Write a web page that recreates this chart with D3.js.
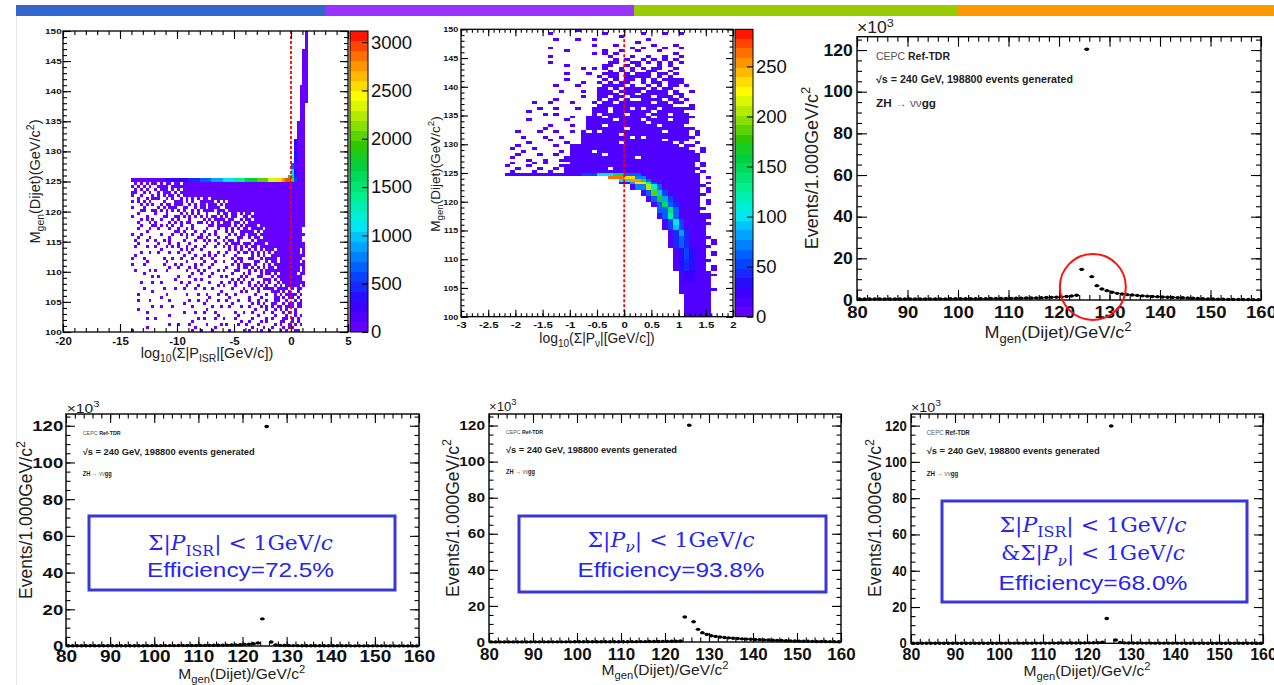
<!DOCTYPE html>
<html>
<head>
<meta charset="utf-8">
<script src="https://cdn.jsdelivr.net/npm/d3@7/dist/d3.min.js"></script>
<style>
  body { margin: 0; background: #fff; }
  svg { display: block; font-family: "Liberation Sans", Arial, Helvetica, sans-serif; }
</style>
</head>
<body>
<svg id="chart" width="1274" height="685"></svg>
<script>
// ---------- values ----------

const bannerColors = ["#3366cc", "#9933ff", "#99cc00", "#ff9900"];

// 1 GeV/c^2 mass bins, lower edges 80..159
const massEdges = d3.range(80, 160);
const massTicks = [80, 90, 100, 110, 120, 130, 140, 150, 160];
const eventTicks = [0, 20, 40, 60, 80, 100, 120];
const eventMax = 126.4; // x10^3

// events per bin (x10^3)
const allEvents = [
  0.45, 0.45, 0.46, 0.46, 0.47, 0.47, 0.48, 0.48, 0.49, 0.49,
  0.50, 0.51, 0.51, 0.52, 0.53, 0.54, 0.55, 0.56, 0.57, 0.58,
  0.59, 0.60, 0.62, 0.63, 0.65, 0.67, 0.69, 0.71, 0.74, 0.77,
  0.80, 0.84, 0.88, 0.93, 0.98, 1.04, 1.10, 1.18, 1.27, 1.38,
  1.52, 1.70, 1.95, 2.25, 14.7, 120.4, 11.2, 6.9, 5.3, 4.5,
  3.7, 3.2, 2.9, 2.6, 2.4, 2.2, 2.0, 1.85, 1.7, 1.6,
  1.45, 1.35, 1.25, 1.15, 1.05, 0.95, 0.85, 0.75, 0.62, 0.52,
  0.45, 0.40, 0.36, 0.32, 0.30, 0.27, 0.25, 0.22, 0.20, 0.19
];
const isrCutEvents = [
  0.10, 0.10, 0.11, 0.11, 0.11, 0.12, 0.12, 0.12, 0.13, 0.13,
  0.13, 0.14, 0.14, 0.15, 0.15, 0.16, 0.16, 0.17, 0.18, 0.18,
  0.19, 0.20, 0.21, 0.22, 0.23, 0.24, 0.25, 0.27, 0.28, 0.30,
  0.32, 0.34, 0.36, 0.39, 0.42, 0.45, 0.49, 0.54, 0.60, 0.68,
  0.80, 0.95, 1.20, 1.60, 14.8, 119.6, 2.2, 0.6, 0.35, 0.28,
  0.24, 0.21, 0.19, 0.17, 0.16, 0.15, 0.14, 0.13, 0.12, 0.12,
  0.11, 0.11, 0.10, 0.10, 0.09, 0.09, 0.09, 0.08, 0.08, 0.08,
  0.07, 0.07, 0.07, 0.06, 0.06, 0.06, 0.06, 0.05, 0.05, 0.05
];
const nuCutEvents = [
  0.05, 0.05, 0.05, 0.05, 0.06, 0.06, 0.06, 0.06, 0.06, 0.07,
  0.07, 0.07, 0.07, 0.08, 0.08, 0.08, 0.09, 0.09, 0.09, 0.10,
  0.10, 0.11, 0.11, 0.12, 0.12, 0.13, 0.14, 0.14, 0.15, 0.16,
  0.17, 0.18, 0.19, 0.20, 0.21, 0.23, 0.25, 0.27, 0.30, 0.33,
  0.36, 0.40, 0.45, 0.55, 13.9, 120.2, 11.2, 7.0, 5.1, 4.2,
  3.5, 3.1, 2.8, 2.5, 2.3, 2.1, 1.9, 1.75, 1.6, 1.5,
  1.4, 1.3, 1.2, 1.1, 1.0, 0.9, 0.8, 0.7, 0.62, 0.55,
  0.48, 0.43, 0.38, 0.34, 0.30, 0.27, 0.24, 0.22, 0.20, 0.18
];
const bothCutEvents = [
  0.03, 0.03, 0.03, 0.03, 0.03, 0.04, 0.04, 0.04, 0.04, 0.04,
  0.04, 0.05, 0.05, 0.05, 0.05, 0.05, 0.06, 0.06, 0.06, 0.06,
  0.07, 0.07, 0.07, 0.08, 0.08, 0.08, 0.09, 0.09, 0.10, 0.10,
  0.11, 0.11, 0.12, 0.13, 0.14, 0.15, 0.16, 0.17, 0.19, 0.21,
  0.24, 0.28, 0.34, 0.60, 13.7, 119.8, 1.8, 0.45, 0.22, 0.18,
  0.15, 0.13, 0.12, 0.11, 0.10, 0.09, 0.09, 0.08, 0.08, 0.07,
  0.07, 0.07, 0.06, 0.06, 0.06, 0.05, 0.05, 0.05, 0.05, 0.04,
  0.04, 0.04, 0.04, 0.04, 0.03, 0.03, 0.03, 0.03, 0.03, 0.03
];

// 2D histograms: [xLo, xHi, massLo, massHi, entries, filled fraction of bins]
const isrCells = [
  // sparse ISR tail below the peak
  [-14, -11.5, 122.5, 125, 40, 0.45], [-11.5, -9.5, 122.5, 125, 40, 0.65],
  [-14, -11, 120, 122.5, 40, 0.35], [-11, -8, 120, 122.5, 40, 0.5], [-8, -5.5, 120, 122.5, 40, 0.75],
  [-14, -11, 117.5, 120, 40, 0.25], [-11, -7, 117.5, 120, 40, 0.4], [-7, -4, 117.5, 120, 40, 0.6], [-4, -2.75, 117.5, 120, 40, 0.8],
  [-14, -11, 114, 117.5, 40, 0.2], [-11, -6, 114, 117.5, 40, 0.3], [-6, -3.5, 114, 117.5, 40, 0.5], [-3.5, -2, 114, 117.5, 40, 0.75], [1.0, 1.25, 114, 117.5, 40, 0.5],
  [-14, -10, 110, 114, 40, 0.15], [-10, -5, 110, 114, 40, 0.25], [-5, -2, 110, 114, 40, 0.45], [-2, -1, 110, 114, 40, 0.75], [0.75, 1.25, 110, 114, 40, 0.65],
  [-14, -10, 107, 110, 40, 0.1], [-10, -5, 107, 110, 40, 0.2], [-5, -2.5, 107, 110, 40, 0.35], [-2.5, -0.75, 107, 110, 40, 0.6], [-0.75, 0.5, 107, 110, 40, 0.9], [0.5, 1.25, 107, 110, 40, 0.7],
  [-14, -9, 104, 107, 40, 0.1], [-9, -4, 104, 107, 40, 0.18], [-4, -1.5, 104, 107, 40, 0.3], [-1.5, 0.5, 104, 107, 40, 0.6], [0.5, 1.0, 104, 107, 40, 0.55],
  [-14, -9, 100, 104, 40, 0.06], [-9, -4, 100, 104, 40, 0.15], [-4, -1, 100, 104, 40, 0.25], [-1, 0.5, 100, 104, 40, 0.45], [0.5, 1.0, 100, 104, 40, 0.4],
  // dense core
  [-9.5, 1.25, 122.5, 125, 60, 1], [-5.5, 1.25, 120, 122.5, 60, 1], [-2.75, 1.25, 117.5, 120, 60, 1],
  [-2, 1.0, 114, 117.5, 60, 1], [-1, 0.75, 110, 114, 60, 1],
  // 125 GeV band
  [-14, -11, 125, 125.5, 80, 1], [-11, -9, 125, 125.5, 250, 1], [-9, -8, 125, 125.5, 450, 1],
  [-8, -7, 125, 125.5, 650, 1], [-7, -6, 125, 125.5, 900, 1], [-6, -5, 125, 125.5, 1100, 1],
  [-5, -4, 125, 125.5, 1400, 1], [-4, -3, 125, 125.5, 1700, 1], [-3, -2, 125, 125.5, 2000, 1],
  [-2, -1.25, 125, 125.5, 2300, 1], [-1.25, -0.75, 125, 125.5, 2550, 1], [-0.75, -0.5, 125, 125.5, 2750, 1],
  [-0.5, 0, 125, 125.5, 2950, 1], [0, 0.25, 125, 125.5, 2000, 1], [0.25, 0.5, 125, 125.5, 600, 1], [0.5, 1.25, 125, 125.5, 80, 1],
  // rising branch above the peak
  [-0.25, 0.25, 125.5, 126, 1600, 1], [0.25, 0.75, 125.5, 126, 500, 1], [0.75, 1.25, 125.5, 126, 60, 1],
  [0.0, 0.25, 126, 127, 1100, 1], [0.25, 0.5, 126, 127, 400, 1], [0.5, 1.25, 126, 127, 60, 1],
  [0.0, 0.25, 127, 128, 700, 1], [0.25, 1.25, 127, 128, 60, 1],
  [0.25, 0.5, 128, 130, 400, 1], [0.5, 1.25, 128, 130, 60, 1],
  [0.25, 0.5, 130, 132, 250, 1], [0.5, 1.25, 130, 132, 60, 1],
  [0.5, 1.25, 132, 135, 60, 1], [0.75, 1.25, 135, 138, 60, 1], [0.75, 1.5, 138, 141, 60, 1],
  [1.0, 1.5, 141, 144, 60, 1], [1.0, 1.5, 144, 147, 60, 1], [1.25, 1.5, 147, 150, 60, 1]
];
const nuCells = [
  // cloud above the peak
  [-1.6, 1.1, 147.5, 150, 10, 0.1],
  [-1.8, -0.4, 145, 147.5, 10, 0.05], [-0.4, 1.1, 145, 147.5, 10, 0.25],
  [-1.5, -0.4, 142.5, 145, 10, 0.08], [-0.4, 0.9, 142.5, 145, 10, 0.45], [0.9, 1.2, 142.5, 145, 10, 0.2],
  [-1.3, -0.5, 140, 142.5, 10, 0.12], [-0.5, 1.0, 140, 142.5, 10, 0.6], [1.0, 1.2, 140, 142.5, 10, 0.25],
  [-1.6, -0.5, 137.5, 140, 10, 0.1], [-0.5, 1.05, 137.5, 140, 10, 0.72], [1.05, 1.25, 137.5, 140, 10, 0.3],
  [-1.8, -0.6, 135, 137.5, 10, 0.12], [-0.6, 1.1, 135, 137.5, 10, 0.8], [1.1, 1.3, 135, 137.5, 10, 0.35],
  [-2.0, -0.7, 132.5, 135, 10, 0.12], [-0.7, 1.15, 132.5, 135, 10, 0.86], [1.15, 1.35, 132.5, 135, 10, 0.35],
  [-2.0, -0.8, 130, 132.5, 10, 0.16], [-0.8, 1.2, 130, 132.5, 10, 0.9], [1.2, 1.4, 130, 132.5, 10, 0.4],
  [-2.2, -1.0, 127.5, 130, 10, 0.18], [-1.0, 1.25, 127.5, 130, 10, 0.94], [1.25, 1.45, 127.5, 130, 10, 0.4],
  [-2.2, -1.1, 125, 127.5, 10, 0.25], [-1.1, 1.3, 125, 127.5, 12, 0.97], [1.3, 1.5, 125, 127.5, 10, 0.35],
  // outer edge of the tail below the peak
  [1.4, 1.6, 120, 124.5, 10, 0.35], [1.4, 1.6, 114, 120, 10, 0.3], [1.5, 1.7, 104, 114, 10, 0.3],
  [-0.3, 1.4, 124, 124.5, 12, 1], [-0.1, 1.4, 123, 124, 12, 1], [0.1, 1.4, 122, 123, 12, 1],
  [0.3, 1.4, 121, 122, 12, 1], [0.4, 1.4, 120, 121, 12, 1], [0.5, 1.4, 119, 120, 12, 1],
  [0.6, 1.4, 118, 119, 12, 1], [0.6, 1.5, 117, 118, 12, 1], [0.7, 1.5, 116, 117, 12, 1],
  [0.7, 1.5, 115, 116, 12, 1], [0.8, 1.5, 114, 115, 12, 1], [0.8, 1.5, 112, 114, 12, 1],
  [0.9, 1.5, 110, 112, 12, 1], [0.9, 1.5, 108, 110, 12, 1], [1.0, 1.6, 106, 108, 12, 1],
  [1.0, 1.6, 104, 106, 12, 1], [1.1, 1.6, 100, 104, 12, 1],
  // band at 125 GeV
  [-2.2, -0.8, 124.5, 125, 15, 1], [-0.8, -0.5, 124.5, 125, 50, 1], [-0.5, -0.2, 124.5, 125, 100, 1],
  [-0.2, 0.0, 124.5, 125, 150, 1], [0.0, 0.3, 124.5, 125, 60, 1], [0.3, 1.4, 124.5, 125, 12, 1],
  // curved ridge
  [-0.3, 0.0, 124, 124.5, 265, 1], [0.0, 0.2, 124, 124.5, 235, 1], [0.2, 0.4, 124, 124.5, 70, 1],
  [-0.1, 0.1, 123.5, 124, 120, 1], [0.1, 0.3, 123.5, 124, 250, 1], [0.3, 0.4, 123.5, 124, 150, 1], [0.4, 0.5, 123.5, 124, 60, 1],
  [0.1, 0.2, 123, 123.5, 80, 1], [0.2, 0.4, 123, 123.5, 230, 1], [0.4, 0.5, 123, 123.5, 120, 1], [0.5, 0.6, 123, 123.5, 55, 1],
  [0.2, 0.4, 122, 123, 70, 1], [0.4, 0.5, 122, 123, 205, 1], [0.5, 0.6, 122, 123, 110, 1], [0.6, 0.7, 122, 123, 60, 1],
  [0.4, 0.5, 121, 122, 60, 1], [0.5, 0.6, 121, 122, 185, 1], [0.6, 0.7, 121, 122, 90, 1], [0.7, 0.8, 121, 122, 55, 1],
  [0.5, 0.6, 120, 121, 60, 1], [0.6, 0.7, 120, 121, 165, 1], [0.7, 0.8, 120, 121, 80, 1], [0.8, 0.9, 120, 121, 50, 1],
  [0.6, 0.7, 119, 120, 60, 1], [0.7, 0.8, 119, 120, 150, 1], [0.8, 0.9, 119, 120, 60, 1], [0.9, 1.0, 119, 120, 45, 1],
  [0.6, 0.8, 118, 119, 65, 1], [0.8, 0.9, 118, 119, 135, 1], [0.9, 1.0, 118, 119, 60, 1],
  [0.7, 0.8, 117, 118, 60, 1], [0.8, 0.9, 117, 118, 115, 1], [0.9, 1.0, 117, 118, 60, 1],
  [0.8, 0.9, 116, 117, 55, 1], [0.9, 1.0, 116, 117, 100, 1], [1.0, 1.1, 116, 117, 55, 1],
  [0.8, 0.9, 115, 116, 50, 1], [0.9, 1.0, 115, 116, 90, 1], [1.0, 1.1, 115, 116, 55, 1],
  [0.9, 1.0, 114, 115, 45, 1], [1.0, 1.1, 114, 115, 80, 1], [1.1, 1.2, 114, 115, 45, 1],
  [0.9, 1.0, 112, 114, 40, 1], [1.0, 1.1, 112, 114, 65, 1], [1.1, 1.2, 112, 114, 45, 1],
  [1.0, 1.1, 110, 112, 35, 1], [1.1, 1.2, 110, 112, 50, 1], [1.2, 1.3, 110, 112, 35, 1],
  [1.0, 1.1, 108, 110, 30, 1], [1.1, 1.2, 108, 110, 40, 1], [1.2, 1.3, 108, 110, 30, 1],
  [1.1, 1.3, 106, 108, 28, 1]
];
const isrZTicks = [0, 500, 1000, 1500, 2000, 2500, 3000];
const nuZTicks = [0, 50, 100, 150, 200, 250];

// ---------- texts ----------
const yTitle2D = [["M", ""], ["gen", "_"], ["(Dijet)(GeV/c", ""], ["2", "^"], [")", ""]];
const xTitleISR = [["log", ""], ["10", "_"], ["(\u03a3|P", ""], ["ISR", "_"], ["|[GeV/c])", ""]];
const xTitleNu = [["log", ""], ["10", "_"], ["(\u03a3|P", ""], ["\u03bd", "_"], ["|[GeV/c])", ""]];
const yTitle1D = [["Events/1.000GeV/c", ""], ["2", "^"]];
const xTitle1D = [["M", ""], ["gen", "_"], ["(Dijet)/GeV/c", ""], ["2", "^"]];
const expLabel = [["\u00d710", ""], ["3", "^"]];
const legendParts = [
  [["CEPC ", "G"], ["Ref-TDR", "B"]],
  [["\u221as = 240 GeV, 198800 events generated", "B"]],
  [["ZH", "B"], [" \u2192 ", "G"], ["\u03bd\u03bd", "G"], ["gg", "B"]]
];
const cutISR = [["\u03a3|", ""], ["P", "I"], ["ISR", "_"], ["| < 1GeV/", ""], ["c", "I"]];
const cutNu = [["\u03a3|", ""], ["P", "I"], ["\u03bd", "_I"], ["| < 1GeV/", ""], ["c", "I"]];
const cutNuAnd = [["&\u03a3|", ""], ["P", "I"], ["\u03bd", "_I"], ["| < 1GeV/", ""], ["c", "I"]];
const effISR = "Efficiency=72.5%";
const effNu = "Efficiency=93.8%";
const effBoth = "Efficiency=68.0%";

// ---------- drawing ----------
const svg = d3.select("#chart");

// colour strip on top
const bannerX = [16, 326, 634, 958, 1274];
svg.append("g").selectAll("rect").data(bannerColors).join("rect")
  .attr("x", (d, i) => bannerX[i]).attr("y", 5)
  .attr("width", (d, i) => bannerX[i + 1] - bannerX[i]).attr("height", 11)
  .attr("fill", d => d);
svg.append("line").attr("x1", 16.5).attr("x2", 16.5).attr("y1", 16).attr("y2", 685)
  .attr("stroke", "#e6e6e6");

// ROOT-like rainbow palette, 30 bands
const paletteStops = [0, 0.1, 0.2, 0.3, 0.36, 0.45, 0.55, 0.62, 0.7, 0.78, 0.86, 0.93, 1];
const paletteColors = ["#7000ff", "#3000ff", "#0050ff", "#00b4ff", "#00f0f0", "#00f090", "#00d040",
  "#30c800", "#a0e600", "#ffff00", "#ffb000", "#ff6000", "#ff0000"];
const palette = d3.scaleLinear().domain(paletteStops).range(paletteColors).clamp(true);
const nBands = 30;
function zColor(v, zMax) {
  const k = Math.min(Math.floor(v / zMax * nBands), nBands - 1);
  return palette((k + 0.5) / nBands);
}

// dither order used to speckle partly filled regions (8x6 bins)
const speckleRank = [
  [0, 31, 12, 44, 5, 27, 18, 39],
  [22, 9, 36, 16, 41, 2, 33, 11],
  [40, 19, 3, 28, 14, 46, 24, 7],
  [13, 35, 25, 47, 8, 20, 37, 29],
  [30, 4, 42, 17, 32, 1, 15, 45],
  [21, 38, 10, 26, 43, 23, 6, 34]
];
// split partly filled regions into single bins following the dither order
function expandCells(cells, xDomain, nx, ny) {
  const bx = (xDomain[1] - xDomain[0]) / nx, by = 50 / ny;
  const out = [];
  cells.forEach(d => {
    if (d[5] >= 1) { out.push(d); return; }
    const c0 = Math.round((d[0] - xDomain[0]) / bx), c1 = Math.round((d[1] - xDomain[0]) / bx);
    const r0 = Math.round((d[2] - 100) / by), r1 = Math.round((d[3] - 100) / by);
    for (let r = r0; r < r1; r++) {
      for (let c = c0; c < c1; c++) {
        const rr = (r + 2 * Math.floor(c / 8)) % 6, cc = (c + 3 * Math.floor(r / 6)) % 8;
        if (speckleRank[rr][cc] < d[5] * 48) {
          out.push([xDomain[0] + c * bx, xDomain[0] + (c + 1) * bx, 100 + r * by, 100 + (r + 1) * by, d[4], 1]);
        }
      }
    }
  });
  return out;
}

function richText(t, parts, fs) {
  let shift = 0;
  parts.forEach(([s, f]) => {
    const ts = t.append("tspan").text(s);
    let target = 0;
    if (f.includes("_")) { target = 0.28 * fs; ts.attr("font-size", fs * 0.72); }
    if (f.includes("^")) { target = -0.42 * fs; ts.attr("font-size", fs * 0.72); }
    if (target !== shift) ts.attr("dy", target - shift);
    shift = target;
    if (f.includes("B")) ts.attr("font-weight", "bold");
    if (f.includes("I")) ts.attr("font-style", "italic");
    if (f.includes("G")) ts.attr("fill", "#555");
  });
  return t;
}

// inward tick marks
function ticks(g, axisFn, scale, values, len, at) {
  const a = axisFn(scale).tickValues(values).tickSizeInner(-len).tickSizeOuter(0).tickFormat("");
  const ag = g.append("g").attr("transform", at).call(a);
  ag.select(".domain").remove();
  ag.selectAll("line").attr("stroke", "#000").attr("stroke-width", 1.1);
}
function axisLabels(g, axisFn, scale, values, lab, fmt, at) {
  const vertical = axisFn === d3.axisLeft;
  const a = axisFn(scale).tickValues(values).tickSize(0)
    .tickPadding(vertical ? lab.pad / lab.sx : lab.pad).tickFormat(fmt);
  const ag = g.append("g").attr("transform", at).call(a);
  ag.select(".domain").remove();
  ag.selectAll("line").remove();
  ag.attr("font-family", null).attr("font-size", lab.font);
  ag.selectAll("text").attr("fill", "#111")
    .attr("font-weight", lab.bold === false ? null : "bold")
    .attr("transform", "scale(" + lab.sx + ",1)");
}

function draw2D(c) {
  const [fx0, fx1, fy0, fy1] = c.frame;
  const x = d3.scaleLinear().domain(c.xDomain).range([fx0, fx1]);
  const y = d3.scaleLinear().domain([100, 150]).range([fy1, fy0]);
  const g = svg.append("g");

  g.append("g").attr("shape-rendering", "crispEdges")
    .selectAll("rect").data(expandCells(c.cells, c.xDomain, c.nx, c.ny)).join("rect")
    .attr("x", d => x(d[0])).attr("y", d => y(d[3]))
    .attr("width", d => x(d[1]) - x(d[0])).attr("height", d => y(d[2]) - y(d[3]))
    .attr("fill", d => zColor(d[4], c.zMax));

  // cut at 1 GeV/c (log10 = 0)
  g.append("line").attr("x1", x(0)).attr("x2", x(0)).attr("y1", fy0).attr("y2", fy1)
    .attr("stroke", "#ff0000").attr("stroke-width", 1.8).attr("stroke-dasharray", "3,2");

  g.append("rect").attr("x", fx0).attr("y", fy0).attr("width", fx1 - fx0).attr("height", fy1 - fy0)
    .attr("fill", "none").attr("stroke", "#000").attr("stroke-width", 1.3);

  const xMajor = d3.range(c.xDomain[0], c.xDomain[1] + 1e-6, c.xStep[0]);
  const xMinor = d3.range(c.xDomain[0], c.xDomain[1] + 1e-6, c.xStep[1]);
  const yMajor = d3.range(100, 150.1, 5), yMinor = d3.range(100, 150.1, 1);
  ticks(g, d3.axisBottom, x, xMajor, c.len[0], `translate(0,${fy1})`);
  ticks(g, d3.axisBottom, x, xMinor, c.len[1], `translate(0,${fy1})`);
  ticks(g, d3.axisTop, x, xMajor, c.len[0], `translate(0,${fy0})`);
  ticks(g, d3.axisTop, x, xMinor, c.len[1], `translate(0,${fy0})`);
  ticks(g, d3.axisLeft, y, yMajor, c.len[0], `translate(${fx0},0)`);
  ticks(g, d3.axisLeft, y, yMinor, c.len[1], `translate(${fx0},0)`);
  ticks(g, d3.axisRight, y, yMajor, c.len[0], `translate(${fx1},0)`);
  ticks(g, d3.axisRight, y, yMinor, c.len[1], `translate(${fx1},0)`);
  axisLabels(g, d3.axisBottom, x, xMajor, c.xLab, d => String(+d.toFixed(1)), `translate(0,${fy1})`);
  axisLabels(g, d3.axisLeft, y, yMajor, c.yLab, d => String(d), `translate(${fx0},0)`);

  // colour bar
  const z = d3.scaleLinear().domain([0, c.zMax]).range([fy1, fy0]);
  g.append("g").attr("shape-rendering", "crispEdges")
    .selectAll("rect").data(d3.range(nBands)).join("rect")
    .attr("x", c.cb[0]).attr("width", c.cb[1] - c.cb[0])
    .attr("y", k => z((k + 1) / nBands * c.zMax))
    .attr("height", k => z(k / nBands * c.zMax) - z((k + 1) / nBands * c.zMax))
    .attr("fill", k => palette((k + 0.5) / nBands));
  g.append("rect").attr("x", c.cb[0]).attr("y", fy0).attr("width", c.cb[1] - c.cb[0])
    .attr("height", fy1 - fy0).attr("fill", "none").attr("stroke", "#000").attr("stroke-width", 1);
  ticks(g, d3.axisRight, z, c.zTicks, 6, `translate(${c.cb[1]},0)`);
  axisLabels(g, d3.axisRight, z, c.zTicks, c.zLab, d => String(d), `translate(${c.cb[1]},0)`);

  richText(g.append("text").attr("text-anchor", "middle").attr("font-size", c.yTitle.font).attr("fill", "#222")
    .attr("transform", `translate(${c.yTitle.x},${c.yTitle.y}) rotate(-90)`), yTitle2D, c.yTitle.font);
  richText(g.append("text").attr("text-anchor", "middle").attr("font-size", c.xTitle.font).attr("fill", "#222")
    .attr("x", c.xTitle.x).attr("y", c.xTitle.y), c.xTitleParts, c.xTitle.font);
}

function draw1D(c) {
  const [fx0, fx1, fy0, fy1] = c.frame;
  const x = d3.scaleLinear().domain([80, 160]).range([fx0, fx1]);
  const y = d3.scaleLinear().domain([0, eventMax]).range([fy1, fy0]);
  const g = svg.append("g");

  g.append("rect").attr("x", fx0).attr("y", fy0).attr("width", fx1 - fx0).attr("height", fy1 - fy0)
    .attr("fill", "#fff").attr("stroke", "#000").attr("stroke-width", 1.4);

  const xMinor = d3.range(80, 160.1, 2), yMinor = d3.range(0, eventMax, 5);
  ticks(g, d3.axisBottom, x, massTicks, c.len[0], `translate(0,${fy1})`);
  ticks(g, d3.axisBottom, x, xMinor, c.len[1], `translate(0,${fy1})`);
  ticks(g, d3.axisTop, x, massTicks, c.len[0], `translate(0,${fy0})`);
  ticks(g, d3.axisTop, x, xMinor, c.len[1], `translate(0,${fy0})`);
  ticks(g, d3.axisLeft, y, eventTicks, c.len[0], `translate(${fx0},0)`);
  ticks(g, d3.axisLeft, y, yMinor, c.len[1], `translate(${fx0},0)`);
  ticks(g, d3.axisRight, y, eventTicks, c.len[0], `translate(${fx1},0)`);
  ticks(g, d3.axisRight, y, yMinor, c.len[1], `translate(${fx1},0)`);
  axisLabels(g, d3.axisBottom, x, massTicks, c.xLab, d => String(d), `translate(0,${fy1})`);
  axisLabels(g, d3.axisLeft, y, eventTicks, c.yLab, d => String(d), `translate(${fx0},0)`);

  // data points with bin-width bars
  const pts = massEdges.map((m, i) => ({ m: m, v: c.values[i] }));
  g.append("g").selectAll("line").data(pts).join("line")
    .attr("x1", d => x(d.m)).attr("x2", d => x(d.m + 1))
    .attr("y1", d => y(d.v)).attr("y2", d => y(d.v))
    .attr("stroke", "#000").attr("stroke-width", 1.3);
  g.append("g").selectAll("ellipse").data(pts).join("ellipse")
    .attr("cx", d => x(d.m + 0.5)).attr("cy", d => y(d.v))
    .attr("rx", 2.2).attr("ry", 1.7).attr("fill", "#000");

  richText(g.append("text").attr("font-size", c.exp.font).attr("fill", "#222")
    .attr("transform", `translate(${c.exp.x},${c.exp.y}) scale(${c.exp.sx},1)`), expLabel, c.exp.font);
  richText(g.append("text").attr("text-anchor", "middle").attr("font-size", c.yTitle.font).attr("fill", "#222")
    .attr("transform", `translate(${c.yTitle.x},${c.yTitle.y}) rotate(-90)`), yTitle1D, c.yTitle.font);
  richText(g.append("text").attr("text-anchor", "middle").attr("font-size", c.xTitle.font).attr("fill", "#222")
    .attr("x", c.xTitle.x).attr("y", c.xTitle.y)
    .attr("textLength", c.xTitle.len).attr("lengthAdjust", "spacingAndGlyphs"), xTitle1D, c.xTitle.font);

  legendParts.forEach((parts, i) => {
    richText(g.append("text").attr("x", c.legend.x).attr("y", c.legend.ys[i])
      .attr("font-size", c.legend.fonts[i]).attr("fill", "#222")
      .attr("textLength", c.legend.lens[i]).attr("lengthAdjust", "spacingAndGlyphs"), parts, c.legend.fonts[i]);
  });

  if (c.circle) {
    g.append("circle").attr("cx", x(c.circle[0])).attr("cy", y(c.circle[1])).attr("r", c.circle[2])
      .attr("fill", "none").attr("stroke", "#ff1010").attr("stroke-width", 2);
  }
  if (c.box) {
    const [bx0, bx1, by0, by1] = c.box.rect;
    g.append("rect").attr("x", bx0).attr("y", by0).attr("width", bx1 - bx0).attr("height", by1 - by0)
      .attr("fill", "#fff").attr("stroke", "#3838d6").attr("stroke-width", 3);
    const cx = (bx0 + bx1) / 2 - 1.5;
    c.box.lines.forEach(l => {
      const t = g.append("text").attr("x", cx).attr("y", l.y).attr("text-anchor", "middle")
        .attr("fill", "#2626ee").attr("font-size", l.font)
        .attr("textLength", l.len).attr("lengthAdjust", "spacingAndGlyphs");
      if (typeof l.parts === "string") {
        t.text(l.parts);
      } else {
        t.attr("font-family", "'DejaVu Serif', 'Liberation Serif', serif");
        richText(t, l.parts, l.font);
      }
    });
  }
}

// ---------- panels ----------
draw2D({
  cells: isrCells, xDomain: [-20, 5], xStep: [5, 1], nx: 100, ny: 100,
  frame: [63, 348, 31, 332], cb: [350, 368], zMax: 3115, zTicks: isrZTicks, len: [8, 4],
  xLab: { font: 11.5, sx: 1.0, pad: 4.8 }, yLab: { font: 7.5, sx: 1.33, pad: 1.3 },
  zLab: { font: 18.5, sx: 1.0, pad: 3, bold: false },
  yTitle: { x: 40, y: 181.5, font: 14.5 }, xTitle: { x: 207, y: 358, font: 14.5 }, xTitleParts: xTitleISR
});
draw2D({
  cells: nuCells, xDomain: [-3, 2], xStep: [0.5, 0.1], nx: 50, ny: 100,
  frame: [461, 733, 29.3, 316.7], cb: [735, 753], zMax: 287, zTicks: nuZTicks, len: [7, 3.5],
  xLab: { font: 9.5, sx: 1.2, pad: 4.9 }, yLab: { font: 7.5, sx: 1.2, pad: 2.7 },
  zLab: { font: 18.5, sx: 1.0, pad: 3, bold: false },
  yTitle: { x: 439.5, y: 174, font: 13.5 }, xTitle: { x: 597, y: 343, font: 13.9 }, xTitleParts: xTitleNu
});

draw1D({
  values: allEvents, frame: [857, 1261, 36.7, 300], len: [10, 5],
  yLab: { font: 16, sx: 1.1, pad: 4.3 }, xLab: { font: 17, sx: 1.09, pad: 6.2 },
  exp: { x: 857, y: 33.3, font: 16, sx: 1.1 },
  yTitle: { x: 818, y: 168, font: 18 }, xTitle: { x: 1058, y: 338, font: 16.5, len: 147 },
  legend: { x: 876, ys: [60, 83, 107], fonts: [10.5, 10, 10], lens: [74, 197, 60] },
  circle: [126.7, 6.25, 33]
});
draw1D({
  values: isrCutEvents, frame: [66, 419, 414, 646], len: [9, 4.5],
  yLab: { font: 15.5, sx: 1.2, pad: 2.7 }, xLab: { font: 17, sx: 1.12, pad: 3.6 },
  exp: { x: 66.7, y: 412.7, font: 13, sx: 1.2 },
  yTitle: { x: 32, y: 520, font: 17.5 }, xTitle: { x: 241.7, y: 679, font: 14.5, len: 127 },
  legend: { x: 82.7, ys: [435, 455, 476], fonts: [6, 8.5, 6.5], lens: [38, 172, 29] },
  box: { rect: [89, 395, 516, 590], lines: [
    { parts: cutISR, y: 550, len: 185, font: 20 },
    { parts: effISR, y: 577, len: 187, font: 21 }
  ] }
});
draw1D({
  values: nuCutEvents, frame: [489, 841, 414, 642], len: [9, 4.5],
  yLab: { font: 13, sx: 1.19, pad: 4 }, xLab: { font: 16, sx: 1.06, pad: 6.6 },
  exp: { x: 489, y: 410.7, font: 12.5, sx: 1.05 },
  yTitle: { x: 458.5, y: 518, font: 17.5 }, xTitle: { x: 665, y: 675, font: 14.5, len: 127 },
  legend: { x: 506, ys: [434, 453.3, 474], fonts: [6, 8.5, 6.5], lens: [37, 171, 29] },
  box: { rect: [519, 826, 516, 592], lines: [
    { parts: cutNu, y: 546.7, len: 167, font: 20 },
    { parts: effNu, y: 576.7, len: 187, font: 21 }
  ] }
});
draw1D({
  values: bothCutEvents, frame: [911, 1263, 414, 643.3], len: [9, 4.5],
  yLab: { font: 14, sx: 0.93, pad: 4.3 }, xLab: { font: 17, sx: 0.94, pad: 4.6 },
  exp: { x: 911, y: 411.7, font: 13, sx: 1.1 },
  yTitle: { x: 881, y: 518, font: 17.5 }, xTitle: { x: 1087, y: 676, font: 14.5, len: 127 },
  legend: { x: 926.7, ys: [435, 454, 476], fonts: [6.5, 8.5, 6.5], lens: [43, 173, 31.7] },
  box: { rect: [942, 1247, 501, 602], lines: [
    { parts: cutISR, y: 531.7, len: 187, font: 20 },
    { parts: cutNuAnd, y: 560, len: 184, font: 20 },
    { parts: effBoth, y: 590, len: 189, font: 21 }
  ] }
});
</script>
</body>
</html>
